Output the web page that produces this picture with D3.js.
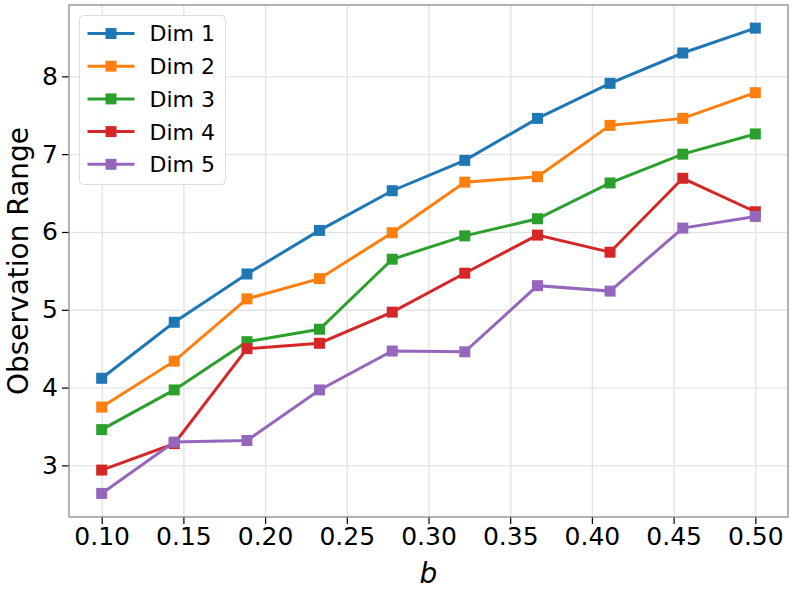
<!DOCTYPE html>
<head>
<meta charset="utf-8">
<script src="https://d3js.org/d3.v7.min.js"></script>
<style>
  body { margin: 0; background: #fff; }
  text { font-family: "DejaVu Sans", sans-serif; fill: #000; }
  .tick text { font-size: 25px; }
  .tick line { stroke: #000; stroke-width: 1.2; }
  .grid line { stroke: #e3e3e3; stroke-width: 1.4; }
  .grid path { display: none; }
  path.domain { display: none; }
</style>
</head>
<body>
<script>
// x positions (b)
const bValues = [0.1, 0.1444, 0.1889, 0.2333, 0.2778, 0.3222, 0.3667, 0.4111, 0.4556, 0.5];
const seriesNames = ["Dim 1", "Dim 2", "Dim 3", "Dim 4", "Dim 5"];
const dim1 = [4.12, 4.84, 5.46, 6.02, 6.53, 6.92, 7.46, 7.91, 8.30, 8.62];
const dim2 = [3.75, 4.34, 5.14, 5.40, 5.99, 6.64, 6.71, 7.37, 7.46, 7.79];
const dim3 = [3.46, 3.97, 4.59, 4.75, 5.65, 5.95, 6.17, 6.63, 7.00, 7.26];
const dim4 = [2.94, 3.28, 4.50, 4.57, 4.97, 5.47, 5.96, 5.74, 6.69, 6.26];
const dim5 = [2.64, 3.30, 3.32, 3.97, 4.47, 4.46, 5.31, 5.24, 6.05, 6.20];
const colours = ["#1f77b4", "#ff7f0e", "#2ca02c", "#d62728", "#9467bd"];
const xTicks = [0.10, 0.15, 0.20, 0.25, 0.30, 0.35, 0.40, 0.45, 0.50];
const yTicks = [3, 4, 5, 6, 7, 8];

const allSeries = [dim1, dim2, dim3, dim4, dim5];

const width = 793, height = 594;
const margin = {top: 5, right: 5, bottom: 77, left: 69};

const svg = d3.select("body").append("svg")
  .attr("width", width)
  .attr("height", height);

const x = d3.scaleLinear()
  .domain([0.08, 0.52])
  .range([margin.left, width - margin.right]);

const y = d3.scaleLinear()
  .domain([2.337, 8.917])
  .range([height - margin.bottom, margin.top]);

// grid
svg.append("g")
  .attr("class", "grid")
  .attr("transform", `translate(0, ${height - margin.bottom})`)
  .call(d3.axisBottom(x).tickValues(xTicks).tickSize(-(height - margin.top - margin.bottom)).tickFormat(""));

svg.append("g")
  .attr("class", "grid")
  .attr("transform", `translate(${margin.left}, 0)`)
  .call(d3.axisLeft(y).tickValues(yTicks).tickSize(-(width - margin.left - margin.right)).tickFormat(""));

// axes
svg.append("g")
  .attr("transform", `translate(0, ${height - margin.bottom})`)
  .call(d3.axisBottom(x).tickValues(xTicks).tickSize(7).tickPadding(3.5).tickFormat(d3.format(".2f")));

svg.append("g")
  .attr("transform", `translate(${margin.left}, 0)`)
  .call(d3.axisLeft(y).tickValues(yTicks).tickSize(7).tickPadding(4).tickFormat(d3.format("d")));

// frame
svg.append("rect")
  .attr("x", margin.left)
  .attr("y", margin.top)
  .attr("width", width - margin.left - margin.right)
  .attr("height", height - margin.top - margin.bottom)
  .attr("fill", "none")
  .attr("stroke", "#8a8a8a")
  .attr("stroke-width", 1.3);

// lines
const line = d3.line()
  .x((d, i) => x(bValues[i]))
  .y(d => y(d));

allSeries.forEach((vals, k) => {
  svg.append("path")
    .datum(vals)
    .attr("d", line)
    .attr("fill", "none")
    .attr("stroke", colours[k])
    .attr("stroke-width", 3);

  svg.selectAll(null)
    .data(vals)
    .enter()
    .append("rect")
    .attr("x", (d, i) => x(bValues[i]) - 5.5)
    .attr("y", d => y(d) - 5.5)
    .attr("width", 11)
    .attr("height", 11)
    .attr("fill", colours[k]);
});

// labels
svg.append("text")
  .attr("x", (margin.left + width - margin.right) / 2)
  .attr("y", 583)
  .style("text-anchor", "middle")
  .style("font-size", "28px")
  .style("font-style", "italic")
  .text("b");

svg.append("text")
  .attr("transform", `translate(28, ${(margin.top + height - margin.bottom) / 2}) rotate(-90)`)
  .style("text-anchor", "middle")
  .style("font-size", "28px")
  .text("Observation Range");

// legend
const legend = svg.append("g").attr("transform", "translate(79.5, 15.5)");
legend.append("rect")
  .attr("width", 146)
  .attr("height", 169)
  .attr("rx", 4)
  .attr("fill", "#fff")
  .attr("fill-opacity", 0.8)
  .attr("stroke", "#dcdcdc")
  .attr("stroke-width", 1);

seriesNames.forEach((name, k) => {
  const yy = 18 + k * 32.7;
  legend.append("line")
    .attr("x1", 8).attr("x2", 55)
    .attr("y1", yy).attr("y2", yy)
    .attr("stroke", colours[k])
    .attr("stroke-width", 3);
  legend.append("rect")
    .attr("x", 31.5 - 5.5).attr("y", yy - 5.5)
    .attr("width", 11).attr("height", 11)
    .attr("fill", colours[k]);
  legend.append("text")
    .attr("x", 70)
    .attr("y", yy)
    .attr("dy", "0.36em")
    .style("font-size", "22px")
    .text(name);
});
</script>
</body>
